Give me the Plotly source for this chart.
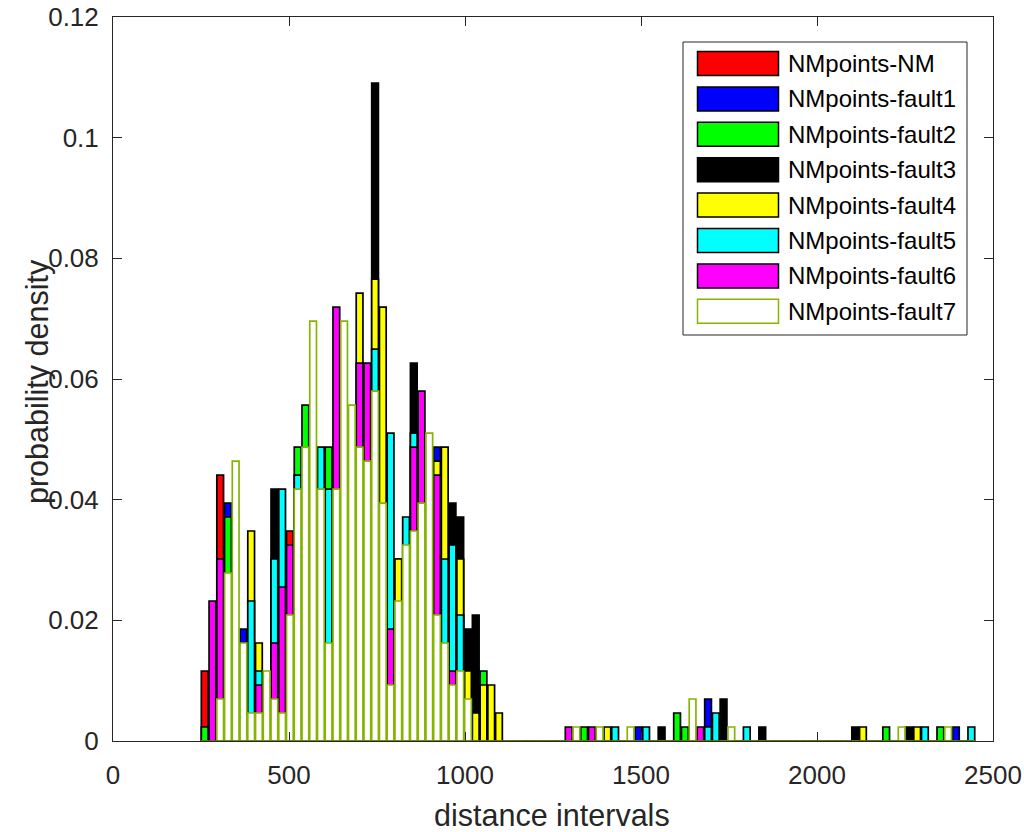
import plotly.graph_objects as go

# ---------------- data (counts per histogram bin, 100 bins) ----------------
N_POINTS = 431          # samples per series (density = count / N_POINTS)
BIN_START = 260.5       # centre of first bin
BIN_WIDTH = 22.0
N_BINS = 100

series_names = ["NMpoints-NM", "NMpoints-fault1", "NMpoints-fault2", "NMpoints-fault3",
                "NMpoints-fault4", "NMpoints-fault5", "NMpoints-fault6", "NMpoints-fault7"]
fill_colors = ["#ff0000", "#0000ff", "#00ff00", "#000000",
               "#ffff00", "#00ffff", "#ff00ff", "#ffffff"]
edge_colors = ["#000000"] * 7 + ["#86b400"]

Z = [0] * 10
nm_counts = [5, 0, 19, 0, 0, 0, 0, 0, 0, 0,
             0, 15, 0, 0, 0, 0, 0, 0, 0, 0] + Z * 8
f1_counts = ([0, 0, 0, 17, 0, 8, 0, 0, 0, 0] + Z + Z +
             [21, 0, 0, 0, 0, 0, 0, 0, 0, 0] + Z +
             [0, 0, 0, 0, 0, 0, 1, 0, 0, 0] +
             [0, 0, 0, 0, 0, 3, 0, 0, 0, 0] + Z + Z +
             [0, 0, 0, 0, 0, 0, 0, 1, 0, 0])
f2_counts = ([1, 0, 0, 16, 0, 0, 0, 0, 0, 0] +
             [0, 0, 21, 24, 0, 0, 21, 0, 0, 0] + Z +
             [0, 0, 0, 0, 0, 0, 5, 0, 0, 0] +
             [0, 0, 0, 0, 0, 0, 0, 0, 0, 1] + Z +
             [0, 2, 1, 0, 0, 0, 0, 0, 0, 0] + Z +
             [0, 0, 0, 0, 0, 0, 0, 0, 1, 0] +
             [0, 0, 0, 0, 0, 1, 0, 0, 0, 0])
f3_counts = ([0, 0, 0, 0, 0, 0, 0, 0, 0, 18] + Z +
             [0, 0, 47, 0, 0, 13, 0, 27, 0, 0] +
             [0, 0, 17, 16, 8, 9, 0, 0, 0, 0] + Z +
             [0, 0, 0, 0, 0, 0, 0, 0, 0, 1] +
             [0, 0, 0, 0, 0, 0, 0, 3, 0, 0] +
             [0, 0, 1, 0, 0, 0, 0, 0, 0, 0] +
             [0, 0, 0, 0, 1, 0, 0, 0, 0, 0] +
             [0, 1, 0, 0, 0, 0, 0, 0, 0, 0])
f4_counts = ([0, 0, 0, 0, 0, 0, 15, 7, 0, 0] + Z +
             [32, 0, 33, 31, 0, 13, 0, 0, 0, 0] +
             [20, 21, 0, 13, 5, 2, 4, 4, 2, 0] + Z +
             [0, 0, 1, 0, 0, 0, 0, 0, 0, 0] + Z + Z +
             [0, 0, 0, 0, 0, 1, 0, 0, 0, 0] +
             [0, 0, 1, 0, 0, 0, 0, 0, 0, 0])
f5_counts = ([0, 0, 0, 0, 0, 0, 10, 5, 0, 13] +
             [18, 0, 19, 0, 0, 21, 18, 0, 0, 0] +
             [0, 0, 28, 0, 22, 0, 16, 22, 0, 0] +
             [0, 13, 14, 9, 0, 0, 0, 0, 0, 0] + Z +
             [0, 0, 0, 1, 0, 0, 0, 1, 0, 0] +
             [0, 0, 0, 0, 0, 1, 2, 0, 0, 0] +
             [1, 0, 0, 0, 0, 0, 0, 0, 0, 0] + Z +
             [0, 0, 0, 1, 0, 0, 0, 0, 0, 1])
f6_counts = ([0, 10, 13, 0, 0, 0, 0, 4, 0, 7] +
             [11, 14, 0, 0, 0, 0, 0, 31, 0, 0] +
             [27, 27, 0, 0, 8, 0, 0, 21, 25, 0] +
             [19, 0, 5, 0, 0, 0, 0, 0, 0, 0] +
             [0, 0, 0, 0, 0, 0, 0, 1, 0, 0] +
             [1, 0, 0, 0, 0, 0, 0, 0, 0, 0] +
             [0, 0, 0, 0, 1, 0, 0, 0, 0, 0] + Z + Z + Z)
f7_counts = ([0, 0, 3, 12, 20, 7, 2, 2, 5, 3] +
             [2, 9, 18, 21, 30, 18, 7, 18, 30, 24] +
             [21, 20, 25, 17, 4, 10, 14, 15, 17, 22] +
             [9, 7, 4, 5, 3, 0, 0, 0, 0, 0] +
             [0, 0, 0, 0, 0, 0, 0, 0, 1, 0] +
             [0, 1, 0, 0, 0, 1, 0, 0, 0, 0] +
             [0, 0, 0, 3, 0, 0, 0, 0, 1, 0] + Z + Z +
             [1, 0, 0, 0, 0, 0, 1, 0, 0, 0])

all_counts = [nm_counts, f1_counts, f2_counts, f3_counts,
              f4_counts, f5_counts, f6_counts, f7_counts]

x_ticks = [0, 500, 1000, 1500, 2000, 2500]
y_ticks = [0, 0.02, 0.04, 0.06, 0.08, 0.1, 0.12]
y_tick_text = ["0", "0.02", "0.04", "0.06", "0.08", "0.1", "0.12"]

# ---------------- figure ----------------
bin_centers = [BIN_START + BIN_WIDTH * i for i in range(N_BINS)]

W, H = 1024, 832
L, R, T, B = 113, 31, 17, 91
PW, PH = W - L - R, H - T - B
FONT = "Liberation Sans, Arial, Helvetica, sans-serif"
TXT = "#262626"

fig = go.Figure()
for name, counts, fc, ec in zip(series_names, all_counts, fill_colors, edge_colors):
    fig.add_trace(go.Bar(
        x=bin_centers, y=[c / N_POINTS for c in counts], name=name,
        width=BIN_WIDTH * 0.87,
        marker=dict(color=fc, line=dict(color=ec, width=1.7)),
        showlegend=False, hoverinfo="skip"))

def px2x(px):
    return (px - L) / PW

def px2y(py):
    return (H - B - py) / PH

shapes = []
annotations = []
# olive baseline under the zero-height bins
shapes.append(dict(type="line", xref="x", yref="y",
                   x0=bin_centers[0] - BIN_WIDTH / 2, x1=bin_centers[-1] + BIN_WIDTH / 2,
                   y0=0, y1=0, line=dict(color="#5f7410", width=1.5), layer="above"))
# legend box
shapes.append(dict(type="rect", xref="paper", yref="paper",
                   x0=px2x(683), x1=px2x(967), y0=px2y(335), y1=px2y(42),
                   line=dict(color=TXT, width=1), fillcolor="white", layer="above"))
row_y0 = 63.5
row_step = 35.4
for i, (name, fc, ec) in enumerate(zip(series_names, fill_colors, edge_colors)):
    cy = row_y0 + i * row_step
    shapes.append(dict(type="rect", xref="paper", yref="paper",
                       x0=px2x(697.5), x1=px2x(778.5), y0=px2y(cy + 12), y1=px2y(cy - 12),
                       line=dict(color=ec, width=1.5), fillcolor=fc, layer="above"))
    annotations.append(dict(xref="paper", yref="paper", x=px2x(786), y=px2y(cy),
                            text=name, showarrow=False, xanchor="left", yanchor="middle",
                            font=dict(family=FONT, size=24, color="#000000")))

annotations.append(dict(xref="paper", yref="paper", x=px2x(552), y=px2y(815),
                        text="distance intervals", showarrow=False,
                        xanchor="center", yanchor="middle",
                        font=dict(family=FONT, size=30.5, color=TXT)))
annotations.append(dict(xref="paper", yref="paper", x=px2x(37), y=px2y(382),
                        text="probability density", showarrow=False, textangle=-90,
                        xanchor="center", yanchor="middle",
                        font=dict(family=FONT, size=30.5, color=TXT)))

fig.update_layout(
    width=W, height=H, margin=dict(l=L, r=R, t=T, b=B, autoexpand=False),
    paper_bgcolor="white", plot_bgcolor="white",
    barmode="overlay", bargap=0, hovermode=False,
    shapes=shapes, annotations=annotations,
    xaxis=dict(range=[0, 2500], tickvals=x_ticks, ticks="inside", ticklen=9,
               tickcolor=TXT, showline=True, linecolor=TXT, linewidth=1, mirror="ticks",
               showgrid=False, zeroline=False, ticklabelstandoff=11, automargin=False,
               tickfont=dict(family=FONT, size=26, color=TXT)),
    yaxis=dict(range=[0, 0.12], tickvals=y_ticks, ticktext=y_tick_text, ticks="inside",
               ticklen=9, tickcolor=TXT, showline=True, linecolor=TXT, linewidth=1,
               mirror="ticks", showgrid=False, zeroline=False, ticklabelstandoff=8,
               automargin=False,
               tickfont=dict(family=FONT, size=26, color=TXT)),
)

fig.write_html("out.html",
               config={"displayModeBar": False, "staticPlot": True},
               post_script="document.body.style.margin='0px';"
                           "document.body.style.overflow='hidden';")
